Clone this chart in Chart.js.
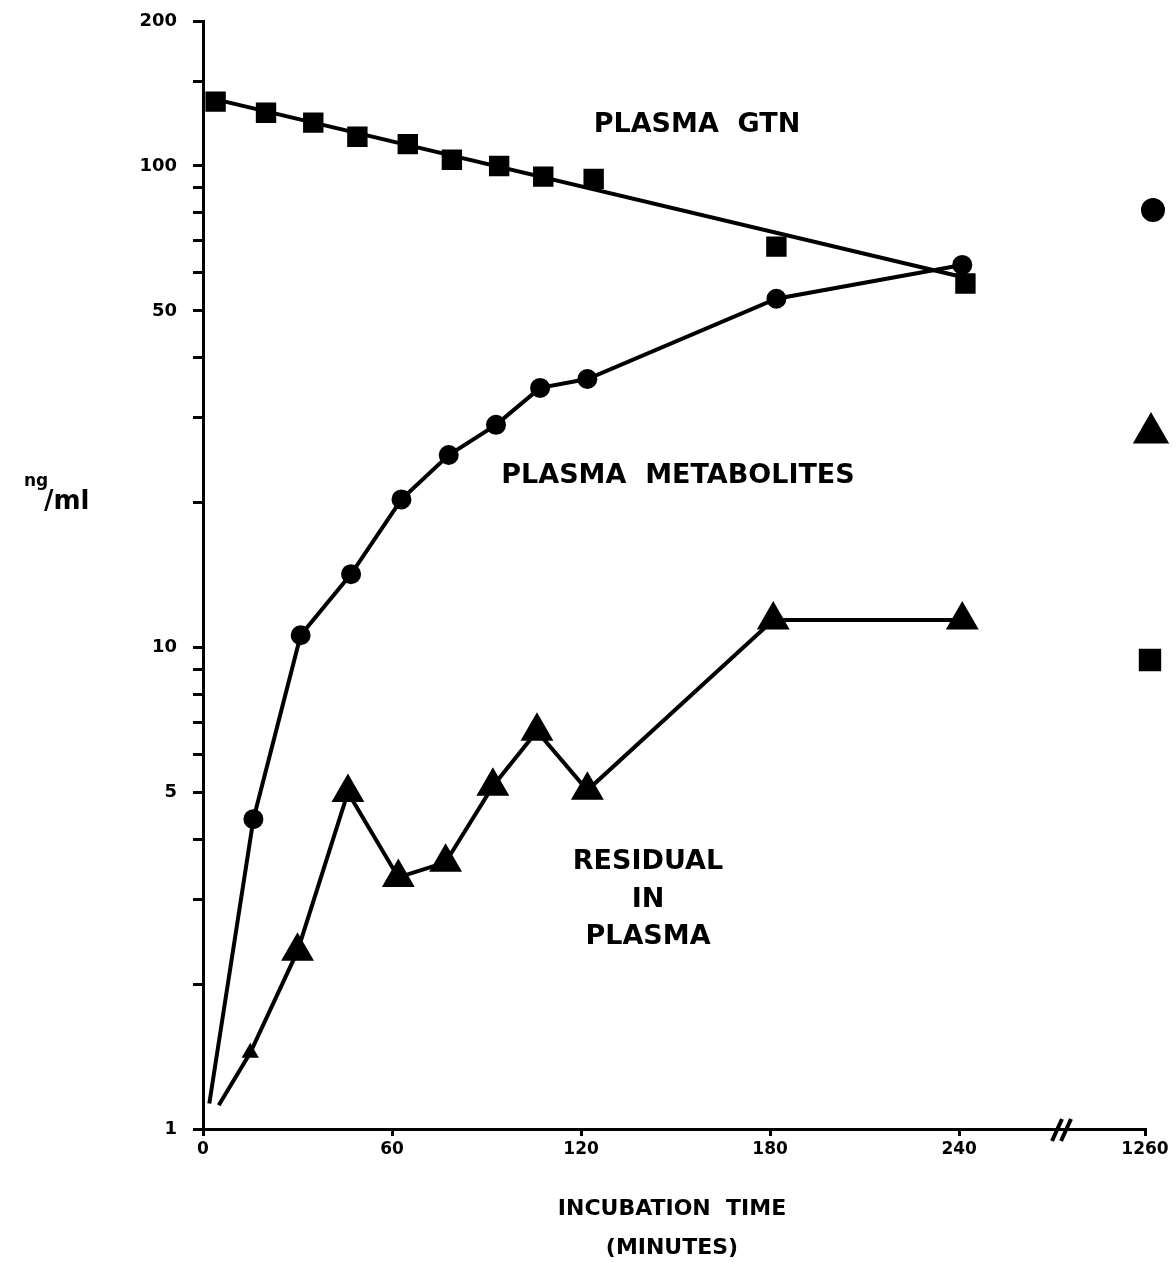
<!DOCTYPE html>
<html>
<head>
<meta charset="utf-8">
<script src="https://cdn.jsdelivr.net/npm/chart.js@4/dist/chart.umd.min.js"></script>
<style>
  body { margin: 0; background: #fff; }
  #wrap { position: relative; width: 1176px; height: 1263px; }
</style>
</head>
<body>
<div id="wrap"><canvas id="chart"></canvas></div>
<script>
// values (minutes, ng/ml)
const metabTime = [2, 16, 31, 47, 63, 78, 93, 107, 122, 182, 241];
const metabValue = [1.13, 4.4, 10.6, 14.2, 20.3, 25.1, 29.0, 34.6, 36.1, 53.0, 62.3];

const residTime = [5, 15, 30, 46, 62, 77, 92, 106, 122, 181, 241];
const residValue = [1.12, 1.44, 2.34, 5.0, 3.33, 3.58, 5.15, 6.7, 5.05, 11.4, 11.4];

const gtnTime = [4, 20, 35, 49, 65, 79, 94, 108, 124, 182, 242];
const gtnValue = [136, 129, 123, 115, 111, 103, 100, 95, 94, 68, 57];

// fitted line through the GTN points
const fitTime = [3, 240];
const fitValue = [138, 59];

const xTickValues = [0, 60, 120, 180, 240, 299];
const xTickLabels = ["0", "60", "120", "180", "240", "1260"];
const yTickValues = [1, 2, 3, 4, 5, 6, 7, 8, 9, 10, 20, 30, 40, 50, 60, 70, 80, 90, 100, 150, 200];
const yLabelValues = [1, 5, 10, 50, 100, 200];

const FONT = '"DejaVu Sans", sans-serif';

function pts(xs, ys) {
  return xs.map((x, i) => ({ x: x, y: ys[i] }));
}

const annotations = {
  id: "annotations",
  afterDraw(chart) {
    const ctx = chart.ctx;
    ctx.save();
    ctx.fillStyle = "#000";
    ctx.strokeStyle = "#000";
    ctx.textAlign = "center";
    ctx.textBaseline = "middle";

    ctx.font = "bold 27px " + FONT;
    ctx.fillText("PLASMA  GTN", 697, 125);
    ctx.fillText("PLASMA  METABOLITES", 678, 476);
    ctx.fillText("RESIDUAL", 648, 862);
    ctx.fillText("IN", 648, 900);
    ctx.fillText("PLASMA", 648, 937);

    ctx.font = "bold 22px " + FONT;
    ctx.fillText("INCUBATION  TIME", 672, 1209);
    ctx.fillText("(MINUTES)", 672, 1248);

    // y axis unit
    ctx.textAlign = "left";
    ctx.font = "bold 17px " + FONT;
    ctx.fillText("ng", 24, 482);
    ctx.font = "bold 26px " + FONT;
    ctx.fillText("/ml", 44, 502);

    // axis break mark
    ctx.lineWidth = 4;
    [1057, 1066].forEach(x => {
      ctx.beginPath();
      ctx.moveTo(x - 5, 1141);
      ctx.lineTo(x + 5, 1119);
      ctx.stroke();
    });

    // symbol key on the right
    const H = Chart.helpers;
    H.drawPoint(ctx, { pointStyle: "circle", radius: 10, rotation: 0, borderWidth: 1 }, 1153, 210);
    H.drawPoint(ctx, { pointStyle: "triangle", radius: 17, rotation: 0, borderWidth: 1 }, 1151, 433);
    H.drawPoint(ctx, { pointStyle: "rect", radius: 13, rotation: 0, borderWidth: 1 }, 1150, 660);
    ctx.restore();
  }
};

new Chart(document.getElementById("chart"), {
  type: "line",
  data: {
    datasets: [
      {
        label: "Plasma metabolites",
        data: pts(metabTime, metabValue),
        borderColor: "#000",
        backgroundColor: "#000",
        borderWidth: 4,
        pointStyle: "circle",
        pointRadius: metabTime.map((t, i) => (i === 0 ? 0 : 9)),
        pointBorderWidth: 2
      },
      {
        label: "Residual in plasma",
        data: pts(residTime, residValue),
        borderColor: "#000",
        backgroundColor: "#000",
        borderWidth: 4,
        pointStyle: "triangle",
        pointRadius: residTime.map((t, i) => (i === 0 ? 0 : i === 1 ? 8 : 17)),
        pointBorderWidth: 2
      },
      {
        label: "Plasma GTN",
        data: pts(gtnTime, gtnValue),
        showLine: false,
        borderColor: "#000",
        backgroundColor: "#000",
        pointStyle: "rect",
        pointRadius: 13,
        pointBorderWidth: 2
      },
      {
        label: "GTN fit",
        data: pts(fitTime, fitValue),
        borderColor: "#000",
        borderWidth: 4,
        pointRadius: 0
      }
    ]
  },
  options: {
    responsive: true,
    maintainAspectRatio: false,
    animation: false,
    layout: { autoPadding: false, padding: { top: 21, right: 31, bottom: 0, left: 0 } },
    plugins: {
      legend: { display: false },
      tooltip: { enabled: false }
    },
    scales: {
      x: {
        type: "linear",
        min: 0,
        max: 299,
        afterBuildTicks: scale => { scale.ticks = xTickValues.map(v => ({ value: v })); },
        afterFit: scale => { scale.height = 134; },
        ticks: {
          autoSkip: false,
          maxRotation: 0,
          padding: 3,
          color: "#000",
          font: { family: FONT, size: 17, weight: "bold" },
          callback: (value, index) => xTickLabels[index]
        },
        grid: { drawOnChartArea: false, color: "#000", lineWidth: 3, tickLength: 7 },
        border: { color: "#000", width: 3 }
      },
      y: {
        type: "logarithmic",
        min: 1,
        max: 200,
        afterBuildTicks: scale => { scale.ticks = yTickValues.map(v => ({ value: v })); },
        afterFit: scale => {
          scale.width = 203;
          scale.paddingTop = 0;
          scale.paddingBottom = 0;
        },
        ticks: {
          autoSkip: false,
          padding: 16,
          color: "#000",
          font: { family: FONT, size: 18, weight: "bold" },
          callback: value => (yLabelValues.includes(value) ? String(value) : "")
        },
        grid: { drawOnChartArea: false, color: "#000", lineWidth: 3, tickLength: 10 },
        border: { color: "#000", width: 3 }
      }
    }
  },
  plugins: [annotations]
});
</script>
</body>
</html>
